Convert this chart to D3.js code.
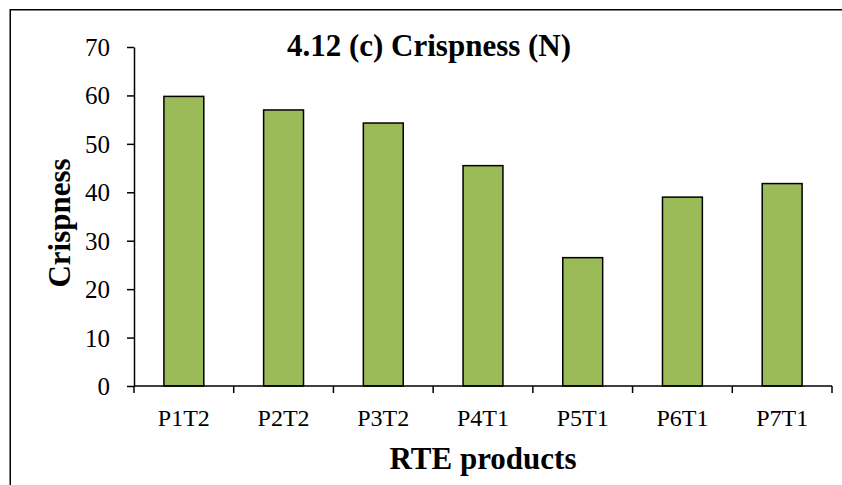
<!DOCTYPE html>
<html>
<head>
<meta charset="utf-8">
<script src="https://cdn.jsdelivr.net/npm/d3@7"></script>
<style>
  body { margin: 0; background: #fff; }
  svg { display: block; }
</style>
</head>
<body>
<div id="chart"></div>
<script>
const products = ["P1T2", "P2T2", "P3T2", "P4T1", "P5T1", "P6T1", "P7T1"];
const crispness = [59.8, 57.0, 54.3, 45.5, 26.5, 39.0, 41.8];
const yTicks = [0, 10, 20, 30, 40, 50, 60, 70];

const W = 842, H = 485;
const margin = {top: 47, right: 10, bottom: 99, left: 134};
const FONT = "'Liberation Serif', 'Times New Roman', serif";

const svg = d3.select("#chart").append("svg")
    .attr("width", W)
    .attr("height", H)
    .style("font-family", FONT);

// outer chart frame (runs off right and bottom edge)
svg.append("rect")
    .attr("x", 10.25).attr("y", 9.75)
    .attr("width", 900).attr("height", 600)
    .attr("fill", "none")
    .attr("stroke", "#000")
    .attr("stroke-width", 1.5);

const x = d3.scaleBand()
    .domain(products)
    .range([margin.left, 832])
    .paddingInner(0.6)
    .paddingOuter(0.3);

const y = d3.scaleLinear()
    .domain([0, 70])
    .range([386, margin.top]);

// bars
svg.append("g")
    .selectAll("rect")
    .data(products)
    .enter().append("rect")
    .attr("x", d => x(d))
    .attr("y", (d, i) => y(crispness[i]))
    .attr("width", x.bandwidth())
    .attr("height", (d, i) => y(0) - y(crispness[i]))
    .attr("fill", "#9BBB59")
    .attr("stroke", "#000")
    .attr("stroke-width", 1.5);

// y axis
const yAxis = svg.append("g")
    .attr("transform", `translate(${margin.left},0)`)
    .call(d3.axisLeft(y).tickValues(yTicks).tickSize(7).tickPadding(17).tickSizeOuter(0));
yAxis.attr("font-family", null).attr("font-size", null);
yAxis.select(".domain").attr("stroke-width", 1.5);
yAxis.selectAll(".tick line").attr("stroke-width", 1.5);
yAxis.selectAll("text")
    .style("font-family", FONT)
    .style("font-size", "25px")
    .attr("fill", "#000")
    .attr("dy", "0.34em");

// x axis, ticks sit on category boundaries
const step = x.step();
const bounds = d3.range(products.length + 1).map(i => margin.left + i * step);
const xAxis = svg.append("g");
xAxis.append("line")
    .attr("x1", margin.left).attr("x2", 832)
    .attr("y1", y(0)).attr("y2", y(0))
    .attr("stroke", "#000").attr("stroke-width", 1.5);
xAxis.selectAll(".xt")
    .data(bounds)
    .enter().append("line")
    .attr("class", "xt")
    .attr("x1", d => d).attr("x2", d => d)
    .attr("y1", y(0)).attr("y2", y(0) + 7)
    .attr("stroke", "#000").attr("stroke-width", 1.5);
xAxis.selectAll(".xl")
    .data(products)
    .enter().append("text")
    .attr("class", "xl")
    .attr("x", d => x(d) + x.bandwidth() / 2)
    .attr("y", 426)
    .attr("text-anchor", "middle")
    .style("font-size", "24px")
    .text(d => d);

// titles
svg.append("text")
    .attr("x", 429).attr("y", 56)
    .attr("text-anchor", "middle")
    .style("font-size", "31px").style("font-weight", "bold")
    .text("4.12 (c) Crispness (N)");

svg.append("text")
    .attr("transform", "translate(70,223) rotate(-90)")
    .attr("text-anchor", "middle")
    .style("font-size", "31px").style("font-weight", "bold")
    .text("Crispness");

svg.append("text")
    .attr("x", 483).attr("y", 469)
    .attr("text-anchor", "middle")
    .style("font-size", "31px").style("font-weight", "bold")
    .text("RTE products");
</script>
</body>
</html>
